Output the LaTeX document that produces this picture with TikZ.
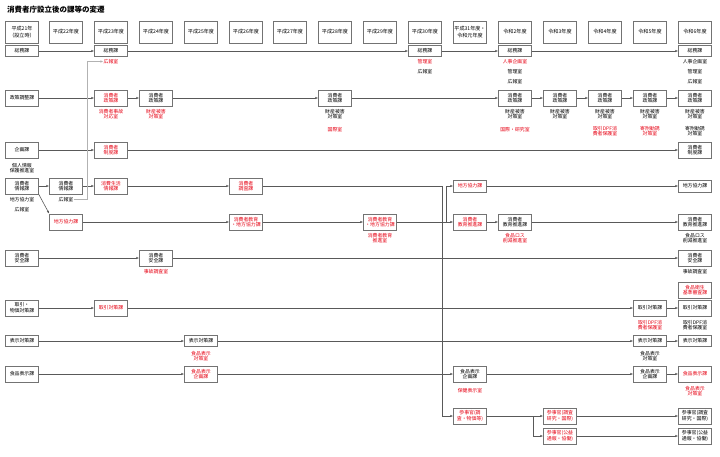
\documentclass[tikz,border=0pt]{standalone}
\usepackage{fontspec}
\setmainfont{Noto Sans CJK JP}
\usetikzlibrary{arrows.meta}
\definecolor{jred}{RGB}{230,0,18}
\newcommand{\fsz}{\fontsize{4.9}{5.7}\selectfont}
\begin{document}
\begin{tikzpicture}[x=1pt,y=-1pt,
 box/.style={draw=black!55,line width=0.5pt,fill=white,minimum width=33pt,minimum height=11pt,inner sep=0.5pt,align=center,font=\fsz},
 tb/.style={box,minimum height=16pt},
 hdr/.style={box,minimum height=22pt,font=\fontsize{5.1}{6.2}\selectfont},
 rd/.style={text=jred},
 lbl/.style={font=\fsz,align=center,inner sep=0pt},
 arr/.style={draw=black!65,line width=0.6pt,-{Latex[length=3pt,width=2.4pt]}},
 ln/.style={draw=black!65,line width=0.6pt},
 garr/.style={draw=black!30,line width=0.6pt,-{Latex[length=3pt,width=2.4pt]}}]
\useasboundingbox (0,0) rectangle (720,456);
\node[anchor=west,inner sep=0,font=\fontsize{7.5}{8.5}\selectfont\bfseries] (title) at (7,10) {消費者庁設立後の課等の変遷};
% headers
\node[hdr] (h0) at (22,32) {平成21年\\（設立時）};
\node[hdr] (h1) at (66,32) {平成22年度};
\node[hdr] (h2) at (111,32) {平成23年度};
\node[hdr] (h3) at (156,32) {平成24年度};
\node[hdr] (h4) at (201,32) {平成25年度};
\node[hdr] (h5) at (246,32) {平成26年度};
\node[hdr] (h6) at (290,32) {平成27年度};
\node[hdr] (h7) at (335,32) {平成28年度};
\node[hdr] (h8) at (380,32) {平成29年度};
\node[hdr] (h9) at (425,32) {平成30年度};
\node[hdr] (h10) at (470,32) {平成31年度・\\令和元年度};
\node[hdr] (h11) at (515,32) {令和2年度};
\node[hdr] (h12) at (560,32) {令和3年度};
\node[hdr] (h13) at (605,32) {令和4年度};
\node[hdr] (h14) at (650,32) {令和5年度};
\node[hdr] (h15) at (695,32) {令和6年度};
% row a
\node[box] (a0) at (22,51) {総務課};
\node[box] (a2) at (111,51) {総務課};
\node[box] (a9) at (425,51) {総務課};
\node[box] (a11) at (515,51) {総務課};
\node[box] (a15) at (695,51) {総務課};
\node[lbl,rd] (a2s) at (111,61.5) {広報室};
\node[lbl,rd] (a9s1) at (425,61.5) {管理室};
\node[lbl] (a9s2) at (425,71.5) {広報室};
\node[lbl,rd] (a11s1) at (515,61.5) {人事企画室};
\node[lbl] (a11s2) at (515,71.5) {管理室};
\node[lbl] (a11s3) at (515,81.5) {広報室};
\node[lbl] (a15s1) at (695,61.5) {人事企画室};
\node[lbl] (a15s2) at (695,71.5) {管理室};
\node[lbl] (a15s3) at (695,81.5) {広報室};
% row b
\node[tb] (b0) at (22,98) {政策調整課};
\node[tb,rd] (b2) at (111,98) {消費者\\政策課};
\node[tb] (b3) at (156,98) {消費者\\政策課};
\node[tb] (b7) at (335,98) {消費者\\政策課};
\node[tb] (b11) at (515,98) {消費者\\政策課};
\node[tb] (b12) at (560,98) {消費者\\政策課};
\node[tb] (b13) at (605,98) {消費者\\政策課};
\node[tb] (b14) at (650,98) {消費者\\政策課};
\node[tb] (b15) at (695,98) {消費者\\政策課};
\node[lbl,rd] (b2s) at (111,114) {消費者事故\\対応室};
\node[lbl,rd] (b3s) at (156,114) {財産被害\\対策室};
\node[lbl] (b7s) at (335,114) {財産被害\\対策室};
\node[lbl,rd] (b7t) at (335,130) {国際室};
\node[lbl] (b11s) at (515,114) {財産被害\\対策室};
\node[lbl,rd] (b11t) at (515,130) {国際・研究室};
\node[lbl] (b12s) at (560,114) {財産被害\\対策室};
\node[lbl] (b13s) at (605,114) {財産被害\\対策室};
\node[lbl,rd] (b13t) at (605,131) {取引DPF消\\費者保護室};
\node[lbl] (b14s) at (650,114) {財産被害\\対策室};
\node[lbl,rd] (b14t) at (650,131) {寄附勧誘\\対策室};
\node[lbl] (b15s) at (695,114) {財産被害\\対策室};
\node[lbl] (b15t) at (695,131) {寄附勧誘\\対策室};
% row c
\node[tb] (c0) at (22,150) {企画課};
\node[tb,rd] (c2) at (111,150) {消費者\\制度課};
\node[tb] (c15) at (695,150) {消費者\\制度課};
\node[lbl] (c0s) at (22,168) {個人情報\\保護推進室};
% row d
\node[tb] (d0) at (22,186) {消費者\\情報課};
\node[tb] (d1) at (66,186) {消費者\\情報課};
\node[tb,rd] (d2) at (111,186) {消費生活\\情報課};
\node[tb,rd] (d5) at (246,186) {消費者\\調査課};
\node[box,rd,minimum height=12pt] (d10) at (470,186) {地方協力課};
\node[box,minimum height=12pt] (d15) at (695,186) {地方協力課};
\node[lbl] (d0s1) at (22,199.5) {地方協力室};
\node[lbl] (d0s2) at (22,209.5) {広報室};
\node[lbl] (d1s) at (66,199.5) {広報室};
% row e
\node[tb,rd] (e1) at (66,222) {地方協力課};
\node[tb,rd] (e5) at (246,222) {消費者教育\\・地方協力課};
\node[tb,rd] (e8) at (380,222) {消費者教育\\・地方協力課};
\node[tb,rd] (e10) at (470,222) {消費者\\教育推進課};
\node[tb] (e11) at (515,222) {消費者\\教育推進課};
\node[tb] (e15) at (695,222) {消費者\\教育推進課};
\node[lbl,rd] (e8s) at (380,238) {消費者教育\\推進室};
\node[lbl,rd] (e11s) at (515,238) {食品ロス\\削減推進室};
\node[lbl] (e15s) at (695,238) {食品ロス\\削減推進室};
% row f
\node[tb] (f0) at (22,258) {消費者\\安全課};
\node[tb] (f3) at (156,258) {消費者\\安全課};
\node[tb] (f15) at (695,258) {消費者\\安全課};
\node[lbl,rd] (f3s) at (156,272) {事故調査室};
\node[lbl] (f15s) at (695,271.5) {事故調査室};
\node[tb,rd] (g15) at (695,290) {食品衛生\\基準審査課};
% row r
\node[tb] (r0) at (22,308) {取引・\\物価対策課};
\node[tb,rd] (r2) at (111,308) {取引対策課};
\node[tb] (r14) at (650,308) {取引対策課};
\node[tb] (r15) at (695,308) {取引対策課};
\node[lbl,rd] (r14s) at (650,325) {取引DPF消\\費者保護室};
\node[lbl] (r15s) at (695,325) {取引DPF消\\費者保護室};
% row i
\node[box] (i0) at (22,341) {表示対策課};
\node[box] (i4) at (201,341) {表示対策課};
\node[box] (i14) at (650,341) {表示対策課};
\node[box] (i15) at (695,341) {表示対策課};
\node[lbl,rd] (i4s) at (201,356) {食品表示\\対策室};
\node[lbl] (i14s) at (650,356) {食品表示\\対策室};
% row j
\node[tb] (j0) at (22,374) {食品表示課};
\node[tb,rd] (j4) at (201,374) {食品表示\\企画課};
\node[tb] (j10) at (470,374) {食品表示\\企画課};
\node[tb] (j14) at (650,374) {食品表示\\企画課};
\node[tb,rd] (j15) at (695,374) {食品表示課};
\node[lbl,rd] (j10s) at (470,391) {保健表示室};
\node[lbl,rd] (j15s) at (695,391) {食品表示\\対策室};
% row k
\node[tb,rd] (k10) at (470,416) {参事官(調\\査・物価等)};
\node[tb,rd] (k12a) at (560,416) {参事官(調査\\研究・国際)};
\node[tb,rd] (k12b) at (560,436) {参事官(公益\\通報・協働)};
\node[tb] (k15a) at (695,416) {参事官(調査\\研究・国際)};
\node[tb] (k15b) at (695,436) {参事官(公益\\通報・協働)};
% coordinates
\coordinate (tA) at (442,186);
\coordinate (tB) at (446,222);
\coordinate (sp) at (533,416);
% connectors
\draw[arr] (a0) -- (a2); \draw[arr] (a2) -- (a9); \draw[arr] (a9) -- (a11); \draw[arr] (a11) -- (a15);
\draw[arr] (b0) -- (b2); \draw[arr] (b2) -- (b3); \draw[arr] (b3) -- (b7); \draw[arr] (b7) -- (b11);
\draw[arr] (b11) -- (b12); \draw[arr] (b12) -- (b13); \draw[arr] (b13) -- (b14); \draw[arr] (b14) -- (b15);
\draw[arr] (c0) -- (c2); \draw[arr] (c2) -- (c15);
\draw[arr] (d0) -- (d1); \draw[arr] (d1) -- (d2); \draw[arr] (d2) -- (d5);
\draw[arr] (d0.south east) -- (e1.north west);
\draw[ln] (d5) -- (tA);
\draw[arr] (tA) |- (k10);
\draw[arr] (e1) -- (e5); \draw[arr] (e5) -- (e8);
\draw[ln] (e8) -- (tB);
\draw[arr] (tB) |- (d10); \draw[arr] (tB) -- (e10);
\draw[arr] (d10) -- (d15);
\draw[arr] (e10) -- (e11); \draw[arr] (e11) -- (e15);
\draw[arr] (f0) -- (f3); \draw[arr] (f3) -- (f15);
\draw[arr] (r0) -- (r2); \draw[arr] (r2) -- (r14); \draw[arr] (r14) -- (r15);
\draw[arr] (i0) -- (i4); \draw[arr] (i4) -- (i14); \draw[arr] (i14) -- (i15);
\draw[arr] (j0) -- (j4); \draw[arr] (j4) -- (j10); \draw[arr] (j10) -- (j14); \draw[arr] (j14) -- (j15);
\draw[arr] (k10) -- (k12a); \draw[arr] (sp) |- (k12b);
\draw[arr] (k12a) -- (k15a); \draw[arr] (k12b) -- (k15b);
\draw[garr] (d1s.east) -- (87,199.5) |- (a2s.west);
\end{tikzpicture}
\end{document}
